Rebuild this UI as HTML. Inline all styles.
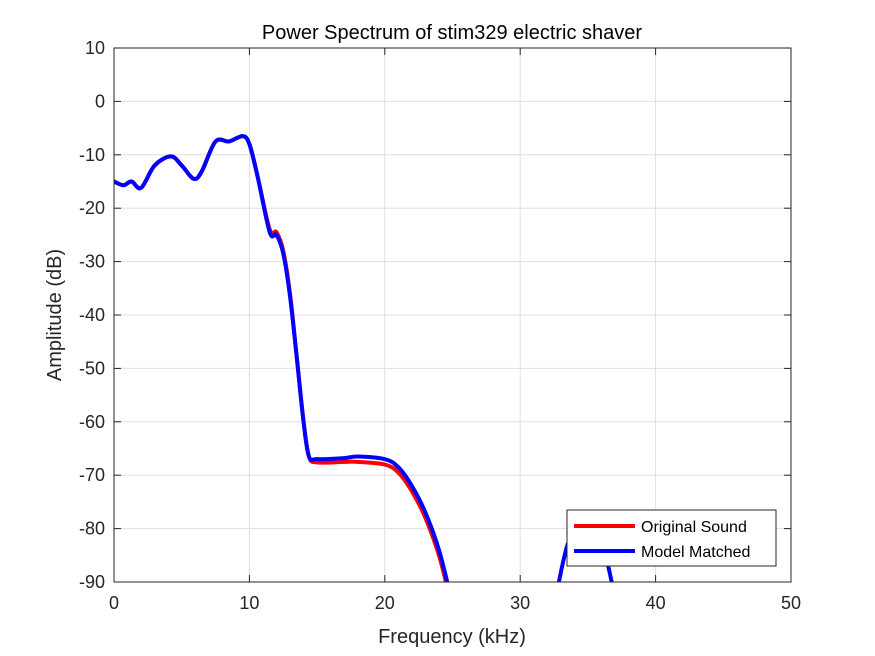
<!DOCTYPE html>
<html><head><meta charset="utf-8"><style>
body{margin:0;background:#fff;}
svg{display:block;font-family:"Liberation Sans",sans-serif;}
</style></head><body>
<svg width="875" height="656">
<rect width="875" height="656" fill="#fff"/>
<rect x="114" y="48" width="677" height="534" fill="#fff"/>
<g id="grid"></g>
<defs><clipPath id="clip"><rect x="114" y="48" width="677" height="534"/></clipPath></defs>
<g id="series" clip-path="url(#clip)"></g>
<g id="axes"></g>
<text x="452" y="39" text-anchor="middle" font-size="20" fill="#000">Power Spectrum of stim329 electric shaver</text>
<text x="452" y="643" text-anchor="middle" font-size="20" fill="#262626">Frequency (kHz)</text>
<text transform="translate(61,315) rotate(-90)" text-anchor="middle" font-size="20" fill="#262626">Amplitude (dB)</text>
<g>
<rect x="567" y="510" width="209" height="56" fill="#fff" stroke="#262626" stroke-width="1"/>
<line x1="574" y1="526" x2="635" y2="526" stroke="#f00" stroke-width="4"/>
<text x="641" y="532" font-size="16" fill="#000">Original Sound</text>
<line x1="574" y1="551" x2="635" y2="551" stroke="#00f" stroke-width="4"/>
<text x="641" y="557" font-size="16" fill="#000">Model Matched</text>
</g>
</svg>
<script>
const xTicks=[0,10,20,30,40,50];
const yTicks=[10,0,-10,-20,-30,-40,-50,-60,-70,-80,-90];
const origX=[0,0.7,1.3,2,3,4.2,5,5.9,6.5,7.5,8.5,9.5,10,10.6,11.5,12,12.5,13,13.5,14,14.4,15,17,18,20,21,22,23,24,24.7];
const origY=[-15,-15.7,-15,-16.2,-12,-10.3,-12,-14.5,-13,-7.5,-7.5,-6.5,-8,-14,-24,-24.5,-28,-36,-48,-60,-66.5,-67.6,-67.5,-67.5,-68,-69.5,-73,-78,-85,-92];
const modelX=[0,0.7,1.3,2,3,4.2,5,5.9,6.5,7.5,8.5,9.5,10,10.6,11.5,12,12.5,13,13.5,14,14.4,15,17,18,20,21,22,23,24,24.8];
const modelY=[-15,-15.7,-15,-16.2,-12,-10.3,-12,-14.5,-13,-7.5,-7.5,-6.5,-8,-14,-24.5,-25,-28.5,-36.5,-48,-60,-66.5,-67,-66.8,-66.5,-67,-68.5,-72,-77,-84,-92];
const bumpX=[32.7,33.5,34.5,35.5,36.3,37];
const bumpY=[-92,-83,-79,-80,-85,-93];
const X=v=>114+v*677/50, Y=v=>48+(10-v)*534/100;
const ns="http://www.w3.org/2000/svg";
const grid=document.getElementById('grid'),axes=document.getElementById('axes'),ser=document.getElementById('series');
function mk(tag,attrs,parent){const e=document.createElementNS(ns,tag);for(const k in attrs)e.setAttribute(k,attrs[k]);parent.appendChild(e);return e;}
xTicks.forEach(t=>{
 const gl=mk('line',{x1:X(t),x2:X(t),y1:48,y2:582,stroke:'#dfdfdf','stroke-width':1},grid);
 
 
 mk('line',{x1:X(t),x2:X(t),y1:582,y2:575,stroke:'#262626'},axes);
 mk('line',{x1:X(t),x2:X(t),y1:48,y2:55,stroke:'#262626'},axes);
 const tx=mk('text',{x:X(t),y:609,'text-anchor':'middle','font-size':18,fill:'#262626'},axes);
 tx.textContent=t;
 
 
});
yTicks.forEach(t=>{
 const gl=mk('line',{x1:114,x2:791,y1:Y(t),y2:Y(t),stroke:'#dfdfdf','stroke-width':1},grid);
 
 
 mk('line',{x1:114,x2:121,y1:Y(t),y2:Y(t),stroke:'#262626'},axes);
 mk('line',{x1:791,x2:784,y1:Y(t),y2:Y(t),stroke:'#262626'},axes);
 const tx=mk('text',{x:105,y:Y(t)+6,'text-anchor':'end','font-size':18,fill:'#262626'},axes);
 tx.textContent=t;
 
 
});
mk('rect',{x:114,y:48,width:677,height:534,fill:'none',stroke:'#262626','stroke-width':1},axes);
function path(xs,ys){
 const p=xs.map((x,i)=>[X(x),Y(ys[i])]);
 let d='M'+p[0][0]+','+p[0][1];
 for(let i=0;i<p.length-1;i++){
  const p0=p[i-1]||p[i],p1=p[i],p2=p[i+1],p3=p[i+2]||p2;
  const c1=[p1[0]+(p2[0]-p0[0])/6,p1[1]+(p2[1]-p0[1])/6];
  const c2=[p2[0]-(p3[0]-p1[0])/6,p2[1]-(p3[1]-p1[1])/6];
  d+=' C'+c1+' '+c2+' '+p2;
 }
 return d;
}
const r=mk('path',{d:path(origX,origY),fill:'none',stroke:'#f00','stroke-width':4,'stroke-linejoin':'round'},ser);


const b=mk('path',{d:path(modelX,modelY),fill:'none',stroke:'#00f','stroke-width':4,'stroke-linejoin':'round'},ser);


const bb=mk('path',{d:path(bumpX,bumpY),fill:'none',stroke:'#00f','stroke-width':4,'stroke-linejoin':'round'},ser);


</script>
</body></html>
